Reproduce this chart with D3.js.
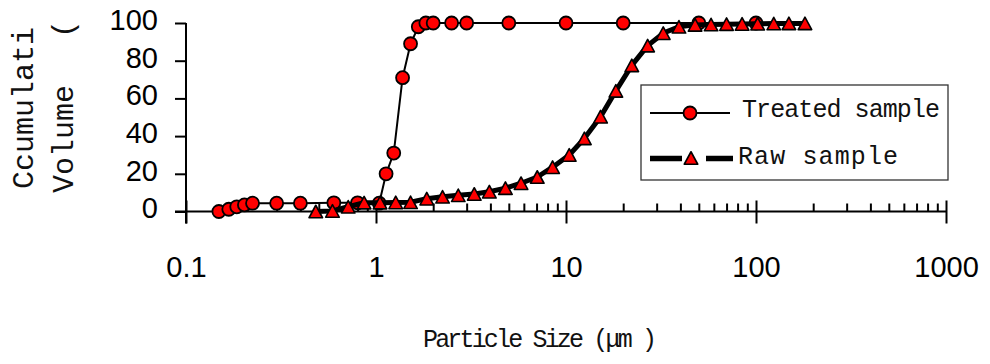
<!DOCTYPE html>
<html><head><meta charset="utf-8">
<script src="https://cdn.jsdelivr.net/npm/d3@7"></script>
<style>body{margin:0;background:#fff} svg{display:block}</style>
</head><body><svg id="c" width="990" height="364"></svg>
<script>
// ---- data ----
const treatedSize = [0.149, 0.168, 0.185, 0.203, 0.224, 0.30, 0.40, 0.60, 0.80, 1.04, 1.13, 1.24, 1.38, 1.52, 1.67, 1.83, 2.0, 2.5, 3.0, 5.0, 10, 20, 50, 100];
const treatedVol  = [0, 1.2, 2.5, 3.5, 4.4, 4.4, 4.4, 4.6, 4.6, 4.4, 20, 31, 71, 89, 98, 100, 100, 100, 100, 100, 100, 100, 100, 100];
const rawSize = [0.482, 0.59, 0.714, 0.866, 1.05, 1.27, 1.52, 1.85, 2.24, 2.71, 3.29, 3.95, 4.8, 5.8, 7.06, 8.5, 10.4, 12.5, 15.2, 18.3, 22.2, 26.9, 32.5, 39.3, 47.8, 58, 70, 84.5, 102, 124, 149, 181];
const rawVol  = [0, 0.3, 2.5, 4.7, 4.7, 4.8, 4.9, 6.8, 7.8, 8.6, 9.3, 10.5, 12.4, 15, 18.3, 23.5, 30, 38.8, 50.3, 64, 77.5, 88, 94.6, 98, 99, 99.2, 99.4, 99.5, 99.6, 99.7, 99.8, 99.8];
const xTickValues = [0.1, 1, 10, 100, 1000];
const xTickLabels = ["0.1", "1", "10", "100", "1000"];
const yTickValues = [0, 20, 40, 60, 80, 100];
const seriesNames = ["Treated sample", "Raw sample"];
const yTitleLines = ["Ccumulati", "Volume  ("];
const xTitle = "Particle Size (μm )";

// ---- chart ----
const svg = d3.select("#c");
const x = d3.scaleLog().domain([0.1, 1000]).range([186, 946]);
const y = d3.scaleLinear().domain([0, 100]).range([211.5, 23]);

const treated = treatedSize.map((s, i) => ({s, v: treatedVol[i]}));
const raw = rawSize.map((s, i) => ({s, v: rawVol[i]}));

const tickFont = "29px 'Liberation Sans', Arial, sans-serif";
const monoFont = "'Liberation Mono', 'Courier New', monospace";

// axes lines
const axisG = svg.append("g").attr("stroke", "#000").attr("stroke-width", 2);
axisG.append("line").attr("x1", x(0.1)).attr("x2", x(0.1)).attr("y1", y(100)).attr("y2", y(0) + 12);
axisG.append("line").attr("x1", x(0.1) - 11).attr("x2", x(1000)).attr("y1", y(0)).attr("y2", y(0));

// y ticks
const yAxis = d3.axisLeft(y).tickValues(yTickValues).tickSize(11).tickPadding(17).tickFormat(d3.format("d"));
const gy = svg.append("g").attr("transform", `translate(${x(0.1)},0)`).call(yAxis);
gy.select(".domain").remove();
gy.selectAll(".tick line").attr("stroke", "#000").attr("stroke-width", 2);
gy.selectAll(".tick text").attr("dy", "0.22em").style("font", tickFont).attr("fill", "#000");

// x major ticks
const xAxis = d3.axisBottom(x).tickValues(xTickValues).tickSize(12).tickPadding(33)
  .tickFormat((d, i) => xTickLabels[i]);
const gx = svg.append("g").attr("transform", `translate(0,${y(0)})`).call(xAxis);
gx.select(".domain").remove();
gx.selectAll(".tick line").attr("stroke", "#000").attr("stroke-width", 2).attr("y1", -11);
gx.selectAll(".tick text").attr("dy", "0.71em").style("font", tickFont).attr("fill", "#000");

// x minor ticks
const minor = x.ticks().filter(t => !xTickValues.some(m => Math.abs(m - t) / m < 1e-6));
const xMinor = d3.axisBottom(x).tickValues(minor).tickSize(-8).tickFormat("");
const gm = svg.append("g").attr("transform", `translate(0,${y(0)})`).call(xMinor);
gm.select(".domain").remove();
gm.selectAll(".tick line").attr("stroke", "#000").attr("stroke-width", 2);

// symbols
const triPath = (w, h) => `M0,${-h/2}L${w/2},${h/2}L${-w/2},${h/2}Z`;
const line = d3.line().x(d => x(d.s)).y(d => y(d.v));

// treated series
svg.append("path").datum(treated).attr("d", line).attr("fill", "none").attr("stroke", "#000").attr("stroke-width", 2);
svg.append("g").selectAll("circle").data(treated).join("circle")
  .attr("cx", d => x(d.s)).attr("cy", d => y(d.v)).attr("r", 6.5)
  .attr("fill", "#ff0000").attr("stroke", "#000").attr("stroke-width", 1.8);

// raw series
svg.append("path").datum(raw).attr("d", line).attr("fill", "none").attr("stroke", "#000").attr("stroke-width", 5).attr("stroke-linejoin", "round");
svg.append("g").selectAll("path").data(raw).join("path")
  .attr("transform", d => `translate(${x(d.s)},${y(d.v)})`).attr("d", triPath(13.5, 12.5))
  .attr("fill", "#ff0000").attr("stroke", "#000").attr("stroke-width", 1.6).attr("stroke-linejoin", "round");

// legend
const lg = svg.append("g");
lg.append("rect").attr("x", 641).attr("y", 85).attr("width", 307).attr("height", 95)
  .attr("fill", "#fff").attr("stroke", "#333").attr("stroke-width", 1.3);
lg.append("line").attr("x1", 650).attr("x2", 730).attr("y1", 113).attr("y2", 113).attr("stroke", "#000").attr("stroke-width", 2);
lg.append("circle").attr("cx", 690).attr("cy", 113).attr("r", 6.5).attr("fill", "#ff0000").attr("stroke", "#000").attr("stroke-width", 1.8);
lg.append("line").attr("x1", 650).attr("x2", 682).attr("y1", 158.5).attr("y2", 158.5).attr("stroke", "#000").attr("stroke-width", 5.5);
lg.append("line").attr("x1", 706).attr("x2", 733).attr("y1", 158.5).attr("y2", 158.5).attr("stroke", "#000").attr("stroke-width", 5.5);
lg.append("path").attr("transform", "translate(691,158)").attr("d", triPath(13.5, 12.5))
  .attr("fill", "#ff0000").attr("stroke", "#000").attr("stroke-width", 1.6).attr("stroke-linejoin", "round");
lg.append("text").attr("x", 742).attr("y", 117).attr("textLength", 198).attr("lengthAdjust", "spacing")
  .style("font", `25px ${monoFont}`).attr("fill", "#111").text(seriesNames[0]);
lg.append("text").attr("x", 738).attr("y", 163.5).attr("textLength", 160).attr("lengthAdjust", "spacing")
  .style("font", `25px ${monoFont}`).attr("fill", "#111").text(seriesNames[1]);

// y title
svg.append("text").attr("transform", "translate(33,189) rotate(-90)")
  .style("font", `30px ${monoFont}`).attr("fill", "#111").style("white-space", "pre").text(yTitleLines[0]);
const yt2 = svg.append("text").attr("transform", "translate(73,193) rotate(-90)")
  .style("font", `30px ${monoFont}`).attr("fill", "#111").style("white-space", "pre");
const paren = yTitleLines[1].lastIndexOf("(");
yt2.append("tspan").text(yTitleLines[1].slice(0, paren));
yt2.append("tspan").attr("dx", 11).text(yTitleLines[1].slice(paren));

// x title
svg.append("text").attr("x", 423).attr("y", 347).attr("textLength", 234).attr("lengthAdjust", "spacing")
  .style("font", `25px ${monoFont}`).attr("fill", "#111").style("white-space", "pre").text(xTitle);
</script>
</body></html>
